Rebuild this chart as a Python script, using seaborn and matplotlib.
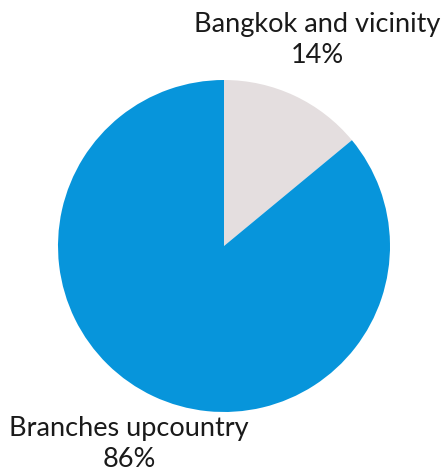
import matplotlib
matplotlib.use("Agg")
import matplotlib.pyplot as plt
import seaborn as sns

labels = ["Bangkok and vicinity", "Branches upcountry"]
shares = [14, 86]
colors = ["#E4DEDF", "#0795DB"]

sns.set_style("white")
plt.rcParams['font.family'] = ['Lato', 'DejaVu Sans']

W, H = 445, 476
fig = plt.figure(figsize=(W / 100, H / 100), dpi=100)
ax = fig.add_axes([0, 0, 1, 1])

cx, cy, r = 224, 246, 166
ax.pie(shares, colors=colors, startangle=90, counterclock=False, radius=1,
       wedgeprops=dict(linewidth=0))
ax.set_aspect('auto')
ax.set_xlim(-cx / r, (W - cx) / r)
ax.set_ylim((cy - H) / r, cy / r)
ax.axis('off')

def px(x, y):
    return (x - cx) / r, (cy - y) / r

tx, ty = px(317, 40)
ax.text(tx, ty, f"{labels[0]}\n{shares[0]}%", ha='center', va='center',
        fontsize=19.5, color='#1a1a1a', linespacing=1.3)
tx, ty = px(129, 444)
ax.text(tx, ty, f"{labels[1]}\n{shares[1]}%", ha='center', va='center',
        fontsize=19.5, color='#1a1a1a', linespacing=1.3)

fig.savefig("out.png", dpi=100)
